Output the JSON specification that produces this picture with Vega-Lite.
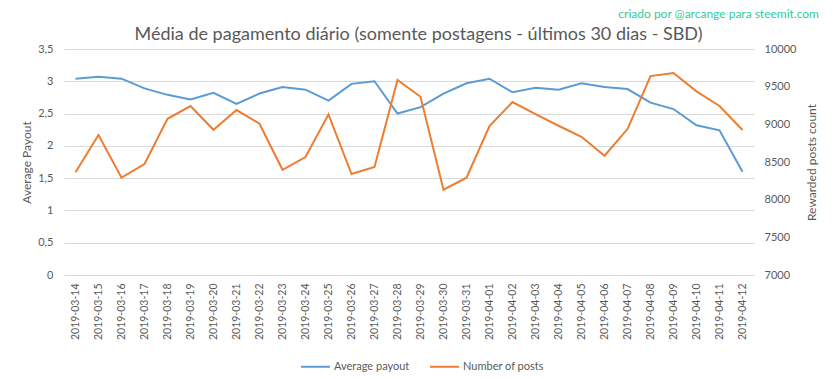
{
  "$schema": "https://vega.github.io/schema/vega-lite/v6.json",
  "width": 690,
  "height": 226,
  "autosize": {"type": "none"},
  "padding": {"left": 64, "top": 49, "right": 79, "bottom": 104},
  "background": "white",
  "config": {
    "font": "Lato",
    "view": {"stroke": null},
    "axis": {"labelColor": "#595959", "titleColor": "#595959", "labelFont": "Lato", "titleFont": "Lato", "titleFontWeight": "normal", "labelFontSize": 11, "titleFontSize": 12, "gridColor": "#d9d9d9", "ticks": false, "domain": false}
  },
  "title": {"text": "criado por @arcange para steemit.com", "anchor": "end", "frame": "group", "dx": 65, "fontSize": 12, "font": "Lato", "fontWeight": "normal", "color": "#2ecc9a", "offset": 4},
  "data": {"values": [
    {"date": "2019-03-14", "payout": 3.04, "posts": 8363},
    {"date": "2019-03-15", "payout": 3.07, "posts": 8858},
    {"date": "2019-03-16", "payout": 3.04, "posts": 8292},
    {"date": "2019-03-17", "payout": 2.89, "posts": 8473},
    {"date": "2019-03-18", "payout": 2.79, "posts": 9074},
    {"date": "2019-03-19", "payout": 2.72, "posts": 9243},
    {"date": "2019-03-20", "payout": 2.82, "posts": 8928},
    {"date": "2019-03-21", "payout": 2.65, "posts": 9190},
    {"date": "2019-03-22", "payout": 2.81, "posts": 9008},
    {"date": "2019-03-23", "payout": 2.91, "posts": 8397},
    {"date": "2019-03-24", "payout": 2.87, "posts": 8566},
    {"date": "2019-03-25", "payout": 2.70, "posts": 9132},
    {"date": "2019-03-26", "payout": 2.96, "posts": 8340},
    {"date": "2019-03-27", "payout": 3.00, "posts": 8433},
    {"date": "2019-03-28", "payout": 2.50, "posts": 9588},
    {"date": "2019-03-29", "payout": 2.60, "posts": 9366},
    {"date": "2019-03-30", "payout": 2.81, "posts": 8132},
    {"date": "2019-03-31", "payout": 2.97, "posts": 8291},
    {"date": "2019-04-01", "payout": 3.04, "posts": 8977},
    {"date": "2019-04-02", "payout": 2.83, "posts": 9296},
    {"date": "2019-04-03", "payout": 2.90, "posts": 9136},
    {"date": "2019-04-04", "payout": 2.87, "posts": 8981},
    {"date": "2019-04-05", "payout": 2.97, "posts": 8835},
    {"date": "2019-04-06", "payout": 2.91, "posts": 8583},
    {"date": "2019-04-07", "payout": 2.88, "posts": 8937},
    {"date": "2019-04-08", "payout": 2.67, "posts": 9641},
    {"date": "2019-04-09", "payout": 2.57, "posts": 9681},
    {"date": "2019-04-10", "payout": 2.32, "posts": 9438},
    {"date": "2019-04-11", "payout": 2.24, "posts": 9243},
    {"date": "2019-04-12", "payout": 1.60, "posts": 8924}
  ]},
  "layer": [
    {
      "mark": {"type": "line", "strokeWidth": 2},
      "encoding": {
        "x": {"field": "date", "type": "ordinal", "scale": {"type": "point", "padding": 0.5},
              "axis": {"orient": "bottom", "labelAngle": -90, "labelPadding": 8, "title": null, "grid": false, "labelFontSize": 10.5}},
        "y": {"field": "payout", "type": "quantitative", "scale": {"domain": [0, 3.5], "nice": false},
              "axis": {"orient": "left", "values": [0, 0.5, 1, 1.5, 2, 2.5, 3, 3.5], "labelExpr": "replace(format(datum.value, '~g'), '.', ',')", "labelPadding": 11, "title": "Average Payout", "titlePadding": 4, "grid": true}},
        "color": {"datum": "Average payout", "type": "nominal",
                  "scale": {"domain": ["Average payout", "Number of posts"], "range": ["#5b9bd5", "#ed7d31"]},
                  "legend": {"orient": "none", "legendX": 236, "legendY": 302, "direction": "horizontal", "title": null, "symbolType": "stroke", "symbolSize": 841, "symbolStrokeWidth": 2, "labelFontSize": 11, "labelColor": "#595959", "labelFont": "Lato", "columnPadding": 16, "labelOffset": 3}}
      }
    },
    {
      "mark": {"type": "line", "strokeWidth": 2},
      "encoding": {
        "x": {"field": "date", "type": "ordinal", "scale": {"type": "point", "padding": 0.5},
              "axis": {"orient": "top", "labels": false, "grid": false, "title": "Média de pagamento diário (somente postagens - últimos 30 dias - SBD)", "titleX": 354, "titleY": -10, "titleFontSize": 18, "titleBaseline": "alphabetic", "titleAlign": "center"}},
        "y": {"field": "posts", "type": "quantitative", "scale": {"domain": [7000, 10000], "nice": false},
              "axis": {"orient": "right", "values": [7000, 7500, 8000, 8500, 9000, 9500, 10000], "format": "d", "labelPadding": 10, "title": "Rewarded posts count", "titleAngle": 270, "titleBaseline": "bottom", "titlePadding": 23, "grid": false}},
        "color": {"datum": "Number of posts", "type": "nominal"}
      }
    }
  ],
  "resolve": {"scale": {"y": "independent"}, "axis": {"x": "independent"}}
}
